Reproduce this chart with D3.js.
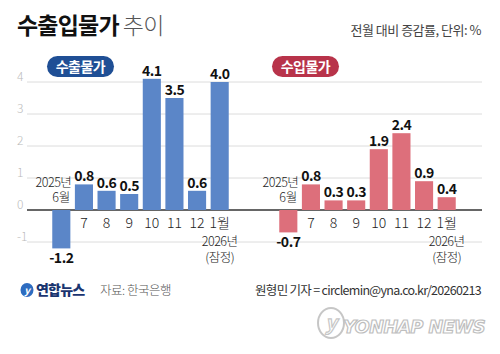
<!DOCTYPE html>
<html><head><meta charset="utf-8">
<script src="https://cdn.jsdelivr.net/npm/d3@7"></script>
<style>
body{margin:0;background:#fff;}
svg{display:block;font-family:"Noto Sans CJK KR","Noto Sans",sans-serif;}
</style></head><body>
<div id="chart"></div>
<script>
const categories = ["6월","7","8","9","10","11","12","1월"];
const exportValues = [-1.2, 0.8, 0.6, 0.5, 4.1, 3.5, 0.6, 4.0];
const importValues = [-0.7, 0.8, 0.3, 0.3, 1.9, 2.4, 0.9, 0.4];
const yTicks = [-1, 0, 1, 2, 3, 4];
const panelNames = ["수출물가", "수입물가"];

const W = 500, H = 354;
const svg = d3.select("#chart").append("svg").attr("width", W).attr("height", H);

const y = d3.scaleLinear().domain([-1, 4]).range([242, 82]);

// title
const title = svg.append("text").attr("x", 17).attr("y", 34).attr("font-size", 23).attr("letter-spacing", -0.8);
title.append("tspan").attr("font-weight", 700).attr("fill", "#111").text("수출입물가");
title.append("tspan").attr("font-weight", 300).attr("fill", "#555").attr("dx", 4).text("추이");

svg.append("text").attr("x", 481).attr("y", 35).attr("text-anchor", "end")
  .attr("font-size", 13).attr("fill", "#444").attr("letter-spacing", -0.5).text("전월 대비 증감률, 단위: %");

// gridlines
svg.append("g").selectAll("line").data(yTicks).join("line")
  .attr("x1", 27).attr("x2", 482)
  .attr("y1", d => y(d)).attr("y2", d => y(d))
  .attr("stroke", d => d === 0 ? "#333" : "#dcdcdc")
  .attr("stroke-width", d => d === 0 ? 1.3 : 1);

svg.append("g").selectAll("text").data(yTicks).join("text")
  .attr("x", 17).attr("y", d => y(d) - 1)
  .attr("font-size", 12).attr("fill", "#bbb").attr("font-weight", 300)
  .text(d => d);

const panels = [
  {values: exportValues, range: [50, 231], color: "#5b86c8", pill: "#1f4f95", pillX: 47, name: panelNames[0]},
  {values: importValues, range: [277, 458], color: "#dd6f7b", pill: "#b8334a", pillX: 272, name: panelNames[1]}
];

panels.forEach(p => {
  const x = d3.scaleBand().domain(categories).range(p.range).paddingInner(0.2).paddingOuter(0.1);
  const g = svg.append("g");
  // pill
  g.append("rect").attr("x", p.pillX).attr("y", 56).attr("width", 67).attr("height", 21)
    .attr("rx", 10.5).attr("fill", p.pill);
  g.append("text").attr("x", p.pillX + 33.5).attr("y", 71.5).attr("text-anchor", "middle")
    .attr("font-size", 14).attr("font-weight", 700).attr("fill", "#fff").attr("letter-spacing", -0.5).text(p.name);

  const data = categories.map((c, i) => ({c, v: p.values[i]}));
  g.selectAll("rect.bar").data(data).join("rect").attr("class", "bar")
    .attr("x", d => x(d.c)).attr("width", x.bandwidth())
    .attr("y", d => y(Math.max(0, d.v))).attr("height", d => Math.abs(y(d.v) - y(0)))
    .attr("fill", p.color);

  g.selectAll("text.val").data(data).join("text").attr("class", "val")
    .attr("x", d => x(d.c) + x.bandwidth() / 2)
    .attr("y", d => d.v >= 0 ? y(d.v) - 3 : y(d.v) + 15)
    .attr("text-anchor", "middle").attr("font-size", 14).attr("font-weight", 700)
    .attr("fill", "#111").attr("letter-spacing", -0.5)
    .text(d => d.v.toFixed(1));

  // category labels
  g.selectAll("text.cat").data(categories.slice(1)).join("text").attr("class", "cat")
    .attr("x", d => x(d) + x.bandwidth() / 2).attr("y", 228)
    .attr("text-anchor", "middle").attr("font-size", 14).attr("font-weight", 300).attr("fill", "#222")
    .text(d => d);

  const first = categories[0];
  const rx = x(first) + x.bandwidth();
  g.append("text").attr("x", rx + 1).attr("y", 186.5).attr("text-anchor", "end")
    .attr("font-size", 12.5).attr("font-weight", 300).attr("fill", "#222").attr("letter-spacing", -0.5).text("2025년");
  g.append("text").attr("x", rx).attr("y", 202).attr("text-anchor", "end")
    .attr("font-size", 12.5).attr("font-weight", 300).attr("fill", "#222").text(first);

  const last = categories[categories.length - 1];
  const cx = x(last) + x.bandwidth() / 2;
  g.append("text").attr("x", cx).attr("y", 245.5).attr("text-anchor", "middle")
    .attr("font-size", 12.5).attr("font-weight", 300).attr("fill", "#222").attr("letter-spacing", -0.5).text("2026년");
  g.append("text").attr("x", cx).attr("y", 262).attr("text-anchor", "middle")
    .attr("font-size", 12.5).attr("font-weight", 300).attr("fill", "#222").attr("letter-spacing", -0.5).text("(잠정)");
});

// footer
const logo = svg.append("g").attr("transform", "translate(27,290)");
logo.append("ellipse").attr("rx", 6.5).attr("ry", 7).attr("fill", "#2d6cc0");
logo.append("text").attr("x", 0).attr("y", 4).attr("text-anchor", "middle").attr("font-size", 10)
  .attr("font-style", "italic").attr("font-weight", 700).attr("fill", "#fff").text("y");
svg.append("text").attr("x", 36).attr("y", 295).attr("font-size", 14).attr("font-weight", 900)
  .attr("fill", "#1a3570").attr("letter-spacing", -0.8).text("연합뉴스");
svg.append("text").attr("x", 100).attr("y", 295).attr("font-size", 12.5).attr("font-weight", 300)
  .attr("fill", "#555").attr("letter-spacing", -0.5).text("자료: 한국은행");
svg.append("text").attr("x", 481).attr("y", 295).attr("text-anchor", "end").attr("font-size", 12.5)
  .attr("font-weight", 400).attr("fill", "#333").attr("letter-spacing", -0.7).text("원형민 기자 = circlemin@yna.co.kr/20260213");

// watermark
const wm = svg.append("g").attr("opacity", 0.55);
wm.append("ellipse").attr("cx", 331).attr("cy", 323).attr("rx", 13).attr("ry", 15)
  .attr("fill", "#fff").attr("stroke", "#999").attr("stroke-width", 2);
wm.append("text").attr("x", 331).attr("y", 330).attr("text-anchor", "middle").attr("font-size", 20)
  .attr("font-style", "italic").attr("font-weight", 700).attr("fill", "#fff").attr("stroke", "#999").attr("stroke-width", 1.2).text("y");
wm.append("text").attr("x", 485).attr("y", 333).attr("text-anchor", "end").attr("font-size", 17.5)
  .attr("font-family", "DejaVu Sans").attr("font-weight", 700).attr("font-style", "italic").attr("letter-spacing", -0.5)
  .attr("fill", "#fff").attr("stroke", "#8a8a8a").attr("stroke-width", 1.2).text("YONHAP NEWS");
</script>
</body></html>
